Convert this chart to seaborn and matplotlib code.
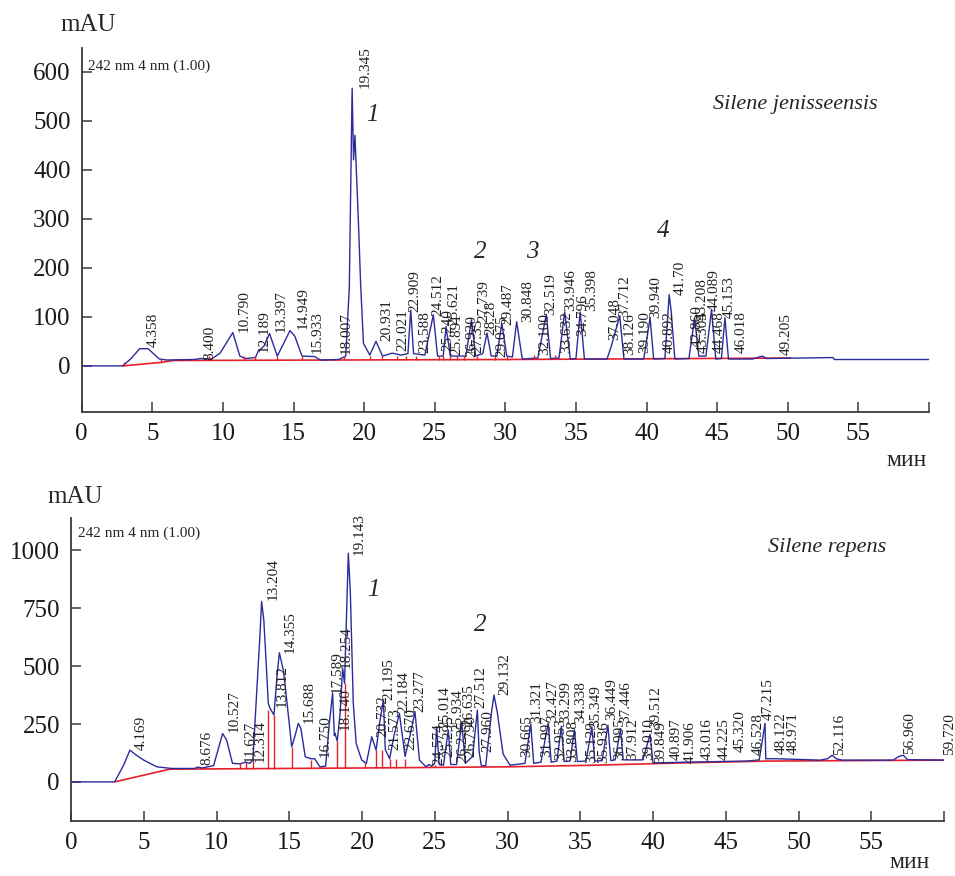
import numpy as np
import matplotlib
matplotlib.use("Agg")
import matplotlib.pyplot as plt
import seaborn as sns

# ---- Silene jenisseensis (top) ----
top_t = [0, 2.9, 3.5, 4.1, 4.7, 5.5, 6.0, 8.0, 8.4, 9.2, 9.8, 10.7, 11.2, 11.6, 12.3, 12.5, 12.9, 13.3,
         13.85, 14.2, 14.75, 15.1, 15.6, 16.5, 16.9, 18.2, 18.7, 18.95, 19.15, 19.25, 19.35, 19.6, 19.75,
         19.95, 20.4, 20.84, 21.3, 22.0, 22.6, 23.1, 23.3, 23.5, 24.3, 24.9, 25.2, 25.6, 25.8, 26.1, 27.2,
         27.6, 27.9, 28.4, 28.7, 29.0, 29.4, 29.75, 30.1, 30.5, 30.8, 31.2, 32.3, 32.9, 33.2, 33.8, 34.2,
         34.6, 35.0, 35.3, 35.6, 37.2, 37.5, 38.1, 38.4, 39.8, 40.25, 40.5, 41.3, 41.6, 41.75, 42.0, 43.0,
         43.4, 43.7, 44.2, 44.6, 44.9, 45.3, 45.55, 45.8, 47.5, 48.2, 48.5, 53.2, 53.3, 60.0]
top_v = [0, 0, 15, 35, 35, 14, 12, 13, 15, 14, 26, 68, 20, 15, 17, 30, 40, 66,
         20, 40, 72, 60, 20, 19, 12, 13, 20, 160, 566, 420, 470, 290, 168,
         46, 22, 50, 20, 26, 22, 25, 114, 25, 22, 104, 20, 20, 80, 20, 20,
         94, 20, 25, 67, 20, 20, 87, 20, 18, 90, 14, 16, 105, 15, 16, 110,
         14, 15, 110, 14, 14, 40, 102, 14, 14, 98, 14, 15, 145, 110, 14, 15,
         98, 20, 20, 114, 14, 15, 98, 14, 14, 20, 15, 17, 13, 13]
top_base_t = [2.9, 5.6, 6.5, 30.0, 50.2]
top_base_v = [0, 7, 11, 13, 16]
top_tick_t = [3.0, 5.6, 9.0, 11.5, 12.3, 13.85, 15.6, 18.6, 20.4, 21.3, 22.3, 23.0, 23.7, 25.3,
              25.6, 26.1, 26.6, 27.1, 28.0, 29.3, 30.1, 32.0, 33.5]
top_labels = ["4.358", "8.400", "10.790", "12.189", "13.397", "14.949", "15.933", "18.007", "19.345",
              "20.931", "22.021", "22.909", "23.588", "24.512", "25.240", "25.621", "25.891", "26.920",
              "27.35", "27.739", "28.28", "29.075", "29.487", "30.848", "32.100", "32.519", "33.632",
              "33.946", "34.796", "35.398", "37.048", "37.712", "38.126", "39.190", "39.940", "40.892",
              "41.70", "42.860", "43.208", "43.305", "44.089", "44.468", "45.153", "46.018", "49.205"]
top_label_h = [38, 13, 69, 28, 69, 75, 27, 24, 566, 50, 30, 110, 26, 101, 30, 83, 22, 18, 26, 90,
               63, 18, 83, 90, 22, 104, 26, 111, 60, 111, 53, 100, 22, 26, 97, 26, 145, 39, 94, 26,
               111, 26, 97, 26, 22]

# ---- Silene repens (bottom) ----
bot_t = [0, 3.0, 3.6, 4.05, 4.5, 5.0, 5.9, 6.9, 8.5, 8.7, 9.0, 9.8, 10.42, 10.7, 11.1, 11.6, 12.0,
         12.3, 12.5, 12.76, 13.0, 13.1, 13.25, 13.4, 13.56, 13.7, 13.95, 14.15, 14.32, 14.6, 14.85,
         15.17, 15.4, 15.62, 15.8, 16.1, 16.5, 16.75, 17.1, 17.5, 17.75, 17.98, 18.1, 18.14, 18.3,
         18.5, 18.67, 18.8, 18.95, 19.06, 19.2, 19.4, 19.6, 19.98, 20.3, 20.67, 20.97, 21.2, 21.47,
         21.6, 21.9, 22.2, 22.57, 22.96, 23.3, 23.64, 23.95, 24.4, 24.6, 24.8, 25.0, 25.13, 25.3,
         25.6, 25.93, 26.1, 26.5, 26.85, 27.1, 27.6, 27.93, 28.05, 28.2, 28.5, 28.9, 29.07, 29.3,
         29.7, 30.17, 30.7, 31.2, 31.6, 31.8, 32.3, 32.8, 33.0, 33.4, 33.7, 33.9, 34.3, 34.6, 34.8,
         35.4, 35.8, 36.0, 36.5, 36.9, 37.1, 37.4, 37.77, 37.95, 39.3, 39.8, 40.0, 43.0, 46.5, 47.3,
         47.7, 47.75, 48.5, 51.5, 52.0, 52.3, 52.6, 53.0, 56.5, 56.9, 57.2, 57.5, 60.0]
bot_v = [0, 0, 70, 137, 115, 94, 65, 58, 58, 64, 60, 70, 209, 180, 80, 78, 85,
         80, 95, 384, 650, 779, 700, 530, 339, 315, 289, 450, 558, 480, 340,
         152, 200, 253, 230, 108, 100, 100, 65, 68, 250, 383, 200, 210, 176,
         300, 491, 426, 745, 988, 815, 340, 166, 94, 80, 195, 137, 250, 354,
         140, 100, 200, 296, 110, 200, 303, 94, 65, 75, 68, 80, 238, 75,
         72, 224, 75, 75, 260, 80, 110, 310, 130, 70, 70, 300, 375, 300,
         120, 72, 76, 80, 250, 80, 85, 255, 85, 90, 240, 88, 90, 225, 88,
         90, 238, 90, 92, 245, 92, 95, 230, 95, 95, 205, 82, 86, 90, 95,
         253, 100, 100, 94, 100, 115, 100, 94, 94, 110, 115, 96, 94]
bot_base_t = [3.0, 6.8, 20.0, 30.0, 36.0, 42.0, 48.0, 60.0]
bot_base_v = [0, 55, 60, 65, 72, 82, 90, 94]
bot_drop_t = [9.1, 11.6, 12.0, 12.5, 13.56, 13.95, 15.2, 16.5, 17.2, 18.3, 18.8, 20.2, 20.97,
              21.35, 21.9, 22.35, 22.96, 24.4, 25.0]
bot_drop_v = [65, 80, 85, 90, 310, 289, 152, 95, 65, 176, 426, 80, 137, 137, 101, 101, 101, 65, 75]
bot_labels = ["4.169", "8.676", "10.527", "11.627", "12.314", "13.204", "13.812", "14.355", "15.688",
              "16.750", "17.589", "18.140", "18.254", "19.143", "20.732", "21.195", "21.573", "22.184",
              "22.670", "23.277", "24.574", "25.014", "25.295", "25.934", "26.235", "26.635", "26.790",
              "27.512", "27.960", "29.132", "30.665", "31.321", "31.997", "32.427", "32.953", "33.299",
              "33.808", "34.338", "35.129", "35.349", "35.936", "36.449", "36.995", "37.446", "37.912",
              "39.010", "39.512", "39.849", "40.897", "41.906", "43.016", "44.225", "45.320", "46.528",
              "47.215", "48.122", "48.971", "52.116", "56.960", "59.720"]
bot_label_h = [137, 72, 216, 87, 87, 786, 325, 556, 253, 108, 383, 224, 491, 981, 195, 354, 137, 296,
               137, 303, 72, 231, 108, 220, 87, 240, 108, 318, 130, 375, 108, 253, 108, 260, 94, 253,
               87, 253, 80, 238, 80, 267, 94, 253, 94, 94, 231, 80, 94, 80, 94, 94, 130, 115, 267,
               122, 122, 115, 122, 115]

x_ticks = list(range(0, 61, 5))
top_yticks = [0, 100, 200, 300, 400, 500, 600]
bot_yticks = [0, 250, 500, 750, 1000]

BLUE = "#2b2b9c"
RED = "#e5202a"
AXC = "#3a3a3a"

sns.set_style("ticks")
plt.rcParams['font.family'] = ['Liberation Serif', 'DejaVu Serif']

fig = plt.figure(figsize=(9.55, 8.76), dpi=100)
W, H = 955, 876
ax1 = fig.add_axes([81.7 / W, 1 - 412 / H, (929 - 81.7) / W, (412 - 48) / H])
ax2 = fig.add_axes([71 / W, 1 - 821 / H, (944 - 71) / W, (821 - 518) / H])


def draw(ax, t, v, bt, bv, labels, label_h, yticks, ylim):
    sns.lineplot(x=bt, y=bv, ax=ax, color=RED, lw=1.2, sort=False, estimator=None)
    sns.lineplot(x=t, y=v, ax=ax, color=BLUE, lw=1.0, sort=False, estimator=None)
    for s, h in zip(labels, label_h):
        ax.annotate(s, xy=(float(s), h), xytext=(2.5, 0), textcoords="offset points",
                    rotation=90, ha="left", va="bottom", fontsize=11, color="#222222")
    ax.set_xlim(0, 60)
    ax.set_ylim(*ylim)
    ax.set_xticks(x_ticks)
    ax.set_xticklabels([str(x) if x < 60 else "" for x in x_ticks])
    ax.set_yticks(yticks)
    ax.set_yticklabels([str(y) for y in yticks])
    ax.tick_params(direction="in", length=7, width=1.1, color=AXC, labelsize=18, pad=8,
                   labelcolor="#1a1a1a")
    for side in ["top", "right"]:
        ax.spines[side].set_visible(False)
    for side in ["left", "bottom"]:
        ax.spines[side].set_linewidth(1.3)
        ax.spines[side].set_color(AXC)
    ax.set_xlabel("")
    ax.set_ylabel("")


draw(ax1, top_t, top_v, top_base_t, top_base_v, top_labels, top_label_h, top_yticks, (-94, 648))
base_at = np.interp(top_tick_t, top_base_t, top_base_v)
ax1.vlines(top_tick_t, base_at, base_at + 8, color=RED, lw=1.0)

draw(ax2, bot_t, bot_v, bot_base_t, bot_base_v, bot_labels, bot_label_h, bot_yticks, (-169, 1140))
drop_base = np.interp(bot_drop_t, bot_base_t, bot_base_v)
ax2.vlines(bot_drop_t, drop_base, bot_drop_v, color=RED, lw=1.0)

# peak numbers and species names
ax1.text(20.6, 512, "1", fontsize=18, style="italic", ha="center", va="center")
ax1.text(28.2, 233, "2", fontsize=18, style="italic", ha="center", va="center")
ax1.text(31.9, 233, "3", fontsize=18, style="italic", ha="center", va="center")
ax1.text(41.2, 274, "4", fontsize=18, style="italic", ha="center", va="center")
ax1.text(50.5, 532, "Silene jenisseensis", fontsize=16, style="italic", ha="center", va="center")
ax2.text(20.75, 830, "1", fontsize=18, style="italic", ha="center", va="center")
ax2.text(28.1, 678, "2", fontsize=18, style="italic", ha="center", va="center")
ax2.text(52.0, 1012, "Silene repens", fontsize=16, style="italic", ha="center", va="center")

ax1.text(0.007, 0.95, "242 nm 4 nm (1.00)", transform=ax1.transAxes, fontsize=11, va="center")
ax2.text(0.008, 0.95, "242 nm 4 nm (1.00)", transform=ax2.transAxes, fontsize=11, va="center")

fig.text(88 / W, 1 - 25 / H, "mAU", fontsize=18, ha="center", va="center")
fig.text(75 / W, 1 - 497 / H, "mAU", fontsize=18, ha="center", va="center")
fig.text(907 / W, 1 - 460 / H, "мин", fontsize=17, ha="center", va="center")
fig.text(910 / W, 1 - 862 / H, "мин", fontsize=17, ha="center", va="center")

fig.savefig("out.png", dpi=100)
